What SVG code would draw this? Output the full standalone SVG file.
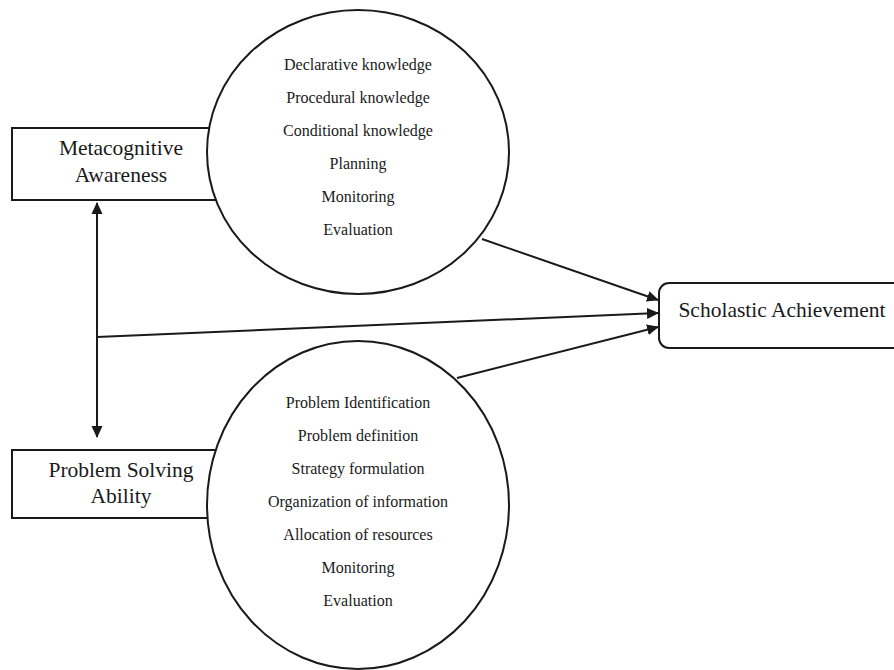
<svg xmlns="http://www.w3.org/2000/svg" width="894" height="670" viewBox="0 0 894 670">
<style>
.box{fill:#fff;stroke:#1a1a1a;stroke-width:2}
.ell{fill:#fff;stroke:#1a1a1a;stroke-width:2}
.t{font-family:'Liberation Serif','Times New Roman',serif;fill:#1a1a1a;text-anchor:middle}
.big{font-size:21.5px}
.sm{font-size:16px}
.c{stroke:#1a1a1a;stroke-width:2;fill:none}
</style>
<defs>
<marker id="ah" viewBox="0 0 12 12" refX="11" refY="6" markerWidth="12" markerHeight="12" markerUnits="userSpaceOnUse" orient="auto-start-reverse">
<path d="M0,0.5 L12,6 L0,11.5 Z" fill="#1a1a1a"/>
</marker>
</defs>
<g id="metacognitive">
<rect class="box" x="12" y="128" width="220" height="72"/>
<text class="t big" font-family="Liberation Serif, serif" x="121" y="155">Metacognitive</text>
<text class="t big" font-family="Liberation Serif, serif" x="121" y="182">Awareness</text>
</g>
<g id="problem-solving">
<rect class="box" x="12" y="450" width="220" height="68"/>
<text class="t big" font-family="Liberation Serif, serif" x="121" y="477">Problem Solving</text>
<text class="t big" font-family="Liberation Serif, serif" x="121" y="503">Ability</text>
</g>
<g id="meta-components" font-family="Liberation Serif, serif">
<ellipse class="ell" cx="358" cy="152" rx="151" ry="142"/>
<text class="t sm" x="358" y="70">Declarative knowledge</text>
<text class="t sm" x="358" y="103">Procedural knowledge</text>
<text class="t sm" x="358" y="136">Conditional knowledge</text>
<text class="t sm" x="358" y="169">Planning</text>
<text class="t sm" x="358" y="202">Monitoring</text>
<text class="t sm" x="358" y="235">Evaluation</text>
</g>
<g id="ps-components" font-family="Liberation Serif, serif">
<ellipse class="ell" cx="358" cy="505" rx="151" ry="164"/>
<text class="t sm" x="358" y="408">Problem Identification</text>
<text class="t sm" x="358" y="441">Problem definition</text>
<text class="t sm" x="358" y="474">Strategy formulation</text>
<text class="t sm" x="358" y="507">Organization of information</text>
<text class="t sm" x="358" y="540">Allocation of resources</text>
<text class="t sm" x="358" y="573">Monitoring</text>
<text class="t sm" x="358" y="606">Evaluation</text>
</g>
<g id="scholastic">
<rect class="box" x="659" y="283" width="250" height="65" rx="10"/>
<text class="t big" font-family="Liberation Serif, serif" x="782" y="317">Scholastic Achievement</text>
</g>
<g id="connectors">
<line class="c" x1="97" y1="203" x2="97" y2="437" marker-start="url(#ah)" marker-end="url(#ah)"/>
<line class="c" x1="97" y1="337" x2="658" y2="313" marker-end="url(#ah)"/>
<line class="c" x1="482" y1="239" x2="658" y2="300" marker-end="url(#ah)"/>
<line class="c" x1="457" y1="378" x2="658" y2="327" marker-end="url(#ah)"/>
</g>
</svg>
